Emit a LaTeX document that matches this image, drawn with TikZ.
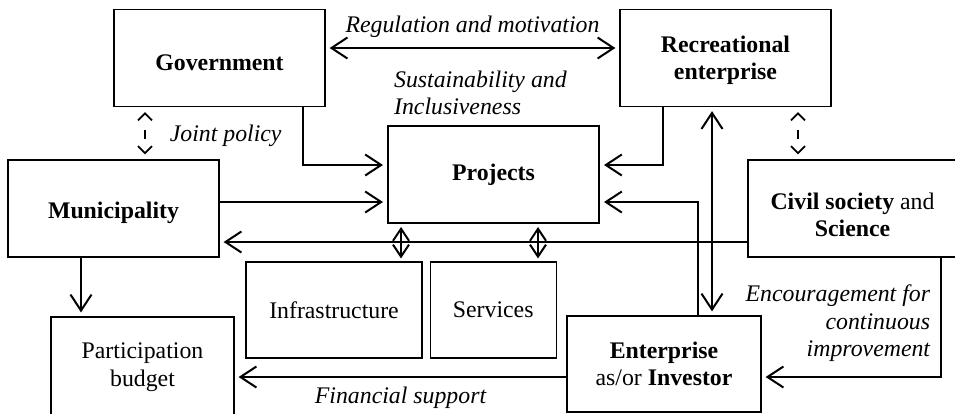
\documentclass[tikz,border=0pt]{standalone}
\usepackage{fontspec}
\setmainfont{Liberation Serif}
\usetikzlibrary{arrows.meta,positioning}
\tikzset{>={Straight Barb[length=16pt,width=21pt]}, % big open arrow heads
box/.style={draw, line width=1.2pt, minimum width=211pt, minimum height=97pt, align=center, inner sep=2pt}, % every box
link/.style={line width=2pt, shorten >=4pt}, % solid connectors
both/.style={<->, shorten <=4pt}, % two-way connectors
small link/.style={<->, line width=2pt, shorten >=3pt, shorten <=3pt, >={Straight Barb[length=12pt,width=16pt]}}, % projects to parts
joint/.style={<->, line width=1.8pt, dash pattern=on 0pt off 16pt on 9pt off 60pt, shorten >=5pt, shorten <=5pt, >={Straight Barb[length=7pt,width=14pt]}}, % dashed ties
note/.style={font=\itshape}, % labels on the connectors
}

\begin{document}
\fontsize{23.8}{27.5}\selectfont
\begin{tikzpicture}[x=1pt, y=-1pt]
\useasboundingbox (0,0) rectangle (955,413);
\node[box, text height=26pt] (gov) at (219.5,58) {\textbf{Government}};
\node[box, text height=49pt] (rec) at (725.5,58) {\textbf{Recreational}\\\textbf{enterprise}};
\node[box, line width=2pt] (proj) at (493.5,174.5) {\textbf{Projects}};
\node[box, text height=26pt] (muni) at (113.5,208.5) {\textbf{Municipality}};
\node[box, minimum width=209pt, text height=57pt] (civil) at (852.5,208.5) {\textbf{Civil society} and\\\textbf{Science}};
\node[box, minimum width=176pt, minimum height=96pt] (infra) at (334,310) {Infrastructure};
\node[box, minimum width=126pt, minimum height=96pt, right=7pt of infra] (serv) {Services};
\node[box, minimum width=194pt, minimum height=96pt] (ent) at (664,364) {\textbf{Enterprise}\\as/or \textbf{Investor}};
\node[box, minimum width=183pt, minimum height=99pt, text height=45pt] (part) at (142.5,366.5) {Participation\\budget};
\node[note, anchor=west, align=left] (sust) at (386,93) {Sustainability and\\Inclusiveness};

\draw[link, both] ([yshift=10pt]gov.east) -- node[note, above=2pt] {Regulation and motivation} ([yshift=10pt]rec.west);
\draw[link, ->] ([xshift=83.5pt]gov.south) |- ([yshift=9.5pt]proj.west);
\draw[joint] ([xshift=-74.5pt]gov.south) -- node[note, right=16pt, yshift=-3pt] {Joint policy} ([xshift=31.5pt]muni.north);
\draw[link, ->] ([yshift=6.5pt]muni.east) -- ([yshift=6.5pt]muni.east -| proj.west);
\draw[link, ->] ([yshift=-33.5pt]civil.west) -- ([yshift=-33.5pt]civil.west -| muni.east);
\draw[small link] ([xshift=-92.5pt]proj.south) -- ([xshift=-92.5pt]proj.south |- infra.north);
\draw[small link] ([xshift=44.5pt]proj.south) -- ([xshift=44.5pt]proj.south |- serv.north);
\draw[link, ->] ([xshift=-62.5pt]rec.south) |- ([yshift=9.5pt]proj.east);
\draw[link, ->] ([xshift=34pt]ent.north) |- ([yshift=-27.5pt]proj.east);
\draw[link, both] ([xshift=-13.5pt]rec.south) -- ([xshift=-13.5pt]rec.south |- ent.north);
\draw[joint] ([xshift=72.5pt]rec.south) -- ([xshift=72.5pt]rec.south |- civil.north);
\draw[link, ->] ([xshift=88.5pt]civil.south) |- node[note, pos=0.275, left=2pt, align=right] {Encouragement for\\continuous\\improvement} ([yshift=-13pt]ent.east);
\draw[link, ->] ([yshift=-13pt]ent.west) -- node[note, below=1pt] {Financial support} ([yshift=-13pt]ent.west -| part.east);
\draw[link, ->] ([xshift=-32.5pt]muni.south) -- ([xshift=-32.5pt]muni.south |- part.north);
\end{tikzpicture}
\end{document}
